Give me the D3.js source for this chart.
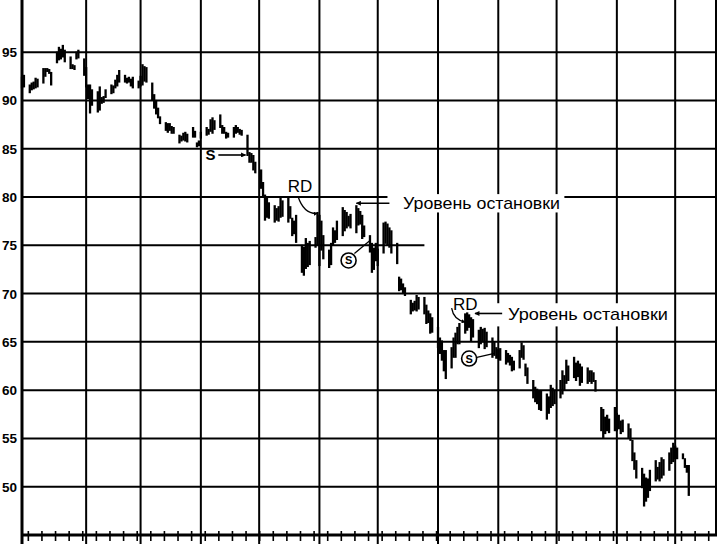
<!DOCTYPE html>
<html><head><meta charset="utf-8">
<script src="https://cdn.jsdelivr.net/npm/d3@7"></script>
<style>body{margin:0;background:#fff}svg{display:block}</style>
</head><body>
<svg id="c" width="719" height="544"></svg>
<script>
// ---- data ----
const yTickValues = [50, 55, 60, 65, 70, 75, 80, 85, 90, 95];
const firstDay = new Date(1993, 11, 30);
const lastDay = new Date(1994, 11, 22);
const highs = [
92.4,92.6,
91.6,91.8,91.9,92.3,92.2,
93.3,93.3,93.3,93.2,92.9,
95.0,95.5,95.3,95.7,95.2,
94.5,93.7,93.6,95.0,95.2,
94.3,93.4,91.6,91.6,91.1,
90.9,91.4,90.3,90.4,91.1,
91.6,91.5,92.1,92.6,93.1,
92.6,92.3,92.4,92.2,92.4,
92.0,92.5,93.7,93.5,93.4,
91.8,90.6,90.0,89.2,88.3,
87.7,87.6,87.6,87.3,87.2,
86.4,86.3,86.6,86.7,86.5,
87.2,86.8,85.6,85.8,86.7,
87.2,87.0,88.0,88.2,87.9,
88.5,87.4,87.2,86.7,86.6,
87.2,87.4,87.2,87.0,86.9,
86.4,84.6,84.5,84.3,83.6,
82.8,81.5,80.2,80.0,79.4,
79.1,78.8,79.0,80.0,79.6,
79.9,79.0,77.8,77.5,78.1,
75.0,74.8,75.7,75.2,75.4,
75.8,78.4,78.1,77.5,76.0,
74.5,75.2,76.8,76.5,77.5,
78.9,78.6,78.4,78.0,78.2,
79.1,78.8,78.5,78.1,77.0,
76.0,75.2,74.7,75.2,74.6,
77.3,77.4,77.2,76.8,76.5,
75.2,71.7,71.5,71.0,70.6,
69.3,69.0,69.2,69.8,69.6,
69.6,68.8,68.2,67.9,67.5,
66.5,65.4,65.1,64.1,64.1,
64.4,65.4,65.9,66.5,66.9,
67.9,68.0,67.8,67.5,67.3,
66.2,66.5,66.3,66.4,66.0,
65.4,65.0,64.4,64.2,64.3,
64.1,63.8,63.6,63.4,63.0,
64.1,64.9,64.6,62.7,62.3,
61.0,60.3,60.1,59.9,59.9,
59.6,59.3,60.5,60.2,60.0,
61.0,62.0,61.5,63.1,62.5,
63.4,62.8,63.0,62.7,62.4,
62.3,62.0,62.0,61.8,61.0,
58.2,58.0,57.2,57.4,57.0,
58.2,57.6,57.4,56.8,56.9,
56.5,56.0,54.8,53.5,52.7,
51.9,51.3,50.9,50.8,51.7,
52.7,52.0,52.5,53.0,52.8,
53.5,54.0,54.5,54.2,54.0,
53.4,52.9,52.2,52.2
];
const lows = [
91.3,91.4,
90.8,91.1,91.2,91.3,91.4,
91.8,92.5,93.0,92.8,91.6,
93.9,94.2,94.3,94.5,94.0,
93.3,93.3,93.2,94.3,94.4,
92.6,91.4,90.2,88.7,89.5,
88.8,89.0,89.7,89.8,90.3,
90.7,90.8,91.3,91.5,91.9,
91.9,91.8,91.9,91.5,91.3,
91.3,91.5,91.6,92.0,91.9,
90.0,89.2,88.6,88.2,87.6,
86.9,86.7,86.9,86.6,86.6,
85.6,85.8,85.9,85.8,85.7,
86.2,86.2,85.2,85.3,86.1,
86.4,86.5,86.8,86.6,87.0,
87.2,86.6,86.6,86.1,86.2,
86.2,86.6,86.7,86.5,86.4,
84.3,83.6,83.6,82.8,82.5,
80.9,80.0,77.6,77.9,77.8,
77.4,77.6,77.5,77.9,78.0,
77.4,77.8,76.0,76.2,75.3,
72.2,71.9,72.6,72.8,73.0,
74.8,75.0,72.9,74.5,73.6,
72.7,73.0,75.0,75.3,75.6,
76.0,76.5,76.8,77.0,76.8,
76.3,77.1,77.2,75.7,75.9,
74.3,72.2,72.5,73.4,72.9,
74.2,75.2,75.0,74.8,74.2,
73.1,70.3,70.4,70.0,69.8,
67.9,68.2,68.3,68.2,68.4,
67.9,66.9,67.0,65.9,66.0,
64.4,63.8,63.1,62.0,61.2,
62.3,63.4,63.4,64.8,64.8,
65.9,66.2,66.5,65.1,65.5,
64.4,64.8,65.0,64.3,64.5,
63.4,63.6,63.3,63.3,63.1,
62.7,62.9,62.6,62.0,62.1,
62.3,63.4,63.2,61.5,60.7,
59.2,58.8,58.6,58.0,57.9,
57.0,57.6,58.2,58.4,58.6,
59.2,59.6,60.0,60.7,61.0,
61.3,61.0,61.4,60.5,60.8,
60.7,60.9,60.7,60.9,59.9,
55.8,55.1,55.5,55.8,55.6,
55.8,55.8,56.0,55.5,55.7,
55.1,54.8,52.7,51.8,50.9,
49.9,48.0,48.5,48.9,49.6,
50.6,50.8,50.6,50.9,51.2,
51.7,52.4,52.6,52.9,52.9,
52.9,52.0,51.5,49.1
];
const labelRD = "RD";
const labelStop = "Уровень остановки";
const labelS = "S";

// ---- chart ----
const svg = d3.select("#c");
const W = 719, H = 544;
const x = d3.scaleTime().domain([firstDay, lastDay]).range([22, 716]);
const y = d3.scaleLinear().domain([45, 100.4]).range([535, 0]);

const tradingDays = d3.timeDay.range(firstDay, lastDay)
  .filter(d => d.getDay() !== 0 && d.getDay() !== 6)
  .slice(0, highs.length);
const bars = tradingDays.map((d, i) => ({date: d, high: highs[i], low: lows[i]}));

svg.append("rect").attr("width", W).attr("height", H).attr("fill", "#fff");

const grid = svg.append("g").attr("stroke", "#000");
// horizontal gridlines (the 75 line stops short in the source)
grid.selectAll("line.h").data(yTickValues).join("line")
  .attr("x1", 22)
  .attr("x2", d => d === 75 ? x(new Date(1994, 6, 25)) : 716)
  .attr("y1", d => y(d)).attr("y2", d => y(d))
  .attr("stroke-width", 2);
const months = d3.timeMonth.range(new Date(1994, 1, 1), lastDay);
grid.selectAll("line.v").data(months).join("line")
  .attr("x1", d => x(d)).attr("x2", d => x(d))
  .attr("y1", 0).attr("y2", H)
  .attr("stroke-width", 2);
grid.append("line").attr("x1", 716).attr("x2", 716).attr("y1", 0).attr("y2", 536).attr("stroke-width", 2);

const xAxis = d3.axisBottom(x).ticks(d3.timeWeek.every(1)).tickSize(6).tickFormat("");
const gx = svg.append("g").attr("transform", `translate(0,${y(45)})`).call(xAxis);
gx.select(".domain").remove();
gx.selectAll(".tick line").attr("stroke", "#000").attr("stroke-width", 1.6).attr("y1", -4);
svg.append("line").attr("x1", 21).attr("x2", 717).attr("y1", y(45)).attr("y2", y(45))
  .attr("stroke", "#000").attr("stroke-width", 3);
svg.append("line").attr("x1", 22).attr("x2", 22).attr("y1", 0).attr("y2", H)
  .attr("stroke", "#000").attr("stroke-width", 3);

svg.append("g").selectAll("text").data(yTickValues).join("text")
  .attr("x", 17).attr("y", d => y(d) + 5)
  .attr("text-anchor", "end")
  .attr("font-family", "Liberation Sans, Arial, sans-serif")
  .attr("font-weight", "bold").attr("font-size", 13.5)
  .text(d => d);

const dayX = off => x(d3.timeDay.offset(firstDay, off));
const annBg = svg.append("g");
annBg.append("rect").attr("x", dayX(188)).attr("y", y(80.3)).attr("width", dayX(279) - dayX(188)).attr("height", y(78.4) - y(80.3)).attr("fill", "#fff");
annBg.append("rect").attr("x", dayX(240)).attr("y", y(69.0)).attr("width", dayX(333) - dayX(240)).attr("height", y(66.6) - y(69.0)).attr("fill", "#fff");
annBg.append("rect").attr("x", dayX(94)).attr("y", y(84.8)).attr("width", dayX(101) - dayX(94)).attr("height", y(83.6) - y(84.8)).attr("fill", "#fff");

svg.append("g").selectAll("line").data(bars).join("line")
  .attr("x1", d => x(d.date)).attr("x2", d => x(d.date))
  .attr("y1", d => y(d.high) - 0.5).attr("y2", d => y(d.low) + 0.5)
  .attr("stroke", "#000").attr("stroke-width", 2.3);

const defs = svg.append("defs");
defs.append("marker").attr("id", "ah").attr("viewBox", "0 0 10 10").attr("refX", 9).attr("refY", 5)
  .attr("markerWidth", 7).attr("markerHeight", 5).attr("orient", "auto-start-reverse")
  .attr("markerUnits", "userSpaceOnUse")
  .append("path").attr("d", "M0,0L10,5L0,10z").attr("fill", "#000");
defs.append("marker").attr("id", "ahs").attr("viewBox", "0 0 10 10").attr("refX", 9).attr("refY", 5)
  .attr("markerWidth", 5).attr("markerHeight", 4).attr("orient", "auto")
  .attr("markerUnits", "userSpaceOnUse")
  .append("path").attr("d", "M0,0L10,5L0,10z").attr("fill", "#000");

const fontA = "Liberation Sans, Arial, sans-serif";
const annG = svg.append("g");
annG.append("text").attr("x", dayX(97.2)).attr("y", y(84.4) + 5.5).attr("text-anchor", "middle")
  .attr("font-family", fontA).attr("font-weight", "bold").attr("font-size", 15).text(labelS);
annG.append("line").attr("x1", dayX(101.5)).attr("x2", dayX(115)).attr("y1", y(84.35)).attr("y2", y(84.35))
  .attr("stroke", "#000").attr("stroke-width", 1.6).attr("marker-end", "url(#ah)");

annG.append("text").attr("x", dayX(143)).attr("y", y(81.2) + 6.5).attr("text-anchor", "middle")
  .attr("font-family", fontA).attr("font-size", 17).text(labelRD);
annG.append("path")
  .attr("d", `M${dayX(142)},${y(80.05)} Q${dayX(145)},${y(78.2)} ${dayX(152.5)},${y(78.3)}`)
  .attr("fill", "none").attr("stroke", "#000").attr("stroke-width", 1.3).attr("marker-end", "url(#ahs)");
annG.append("line").attr("x1", dayX(189.5)).attr("x2", dayX(172)).attr("y1", y(79.35)).attr("y2", y(79.35))
  .attr("stroke", "#000").attr("stroke-width", 1.6).attr("marker-end", "url(#ah)");
annG.append("text").attr("x", dayX(196)).attr("y", y(79.45) + 6.5)
  .attr("font-family", fontA).attr("font-size", 17).attr("textLength", 157).attr("lengthAdjust", "spacingAndGlyphs")
  .text(labelStop);
annG.append("line").attr("x1", dayX(171.8)).attr("x2", dayX(179)).attr("y1", y(74.16)).attr("y2", y(75.5))
  .attr("stroke", "#000").attr("stroke-width", 1.3);
annG.append("circle").attr("cx", dayX(168.7)).attr("cy", y(73.43)).attr("r", 7.5)
  .attr("fill", "#fff").attr("stroke", "#000").attr("stroke-width", 1.6);
annG.append("text").attr("x", dayX(168.7)).attr("y", y(73.43) + 4).attr("text-anchor", "middle")
  .attr("font-family", fontA).attr("font-weight", "bold").attr("font-size", 11).text(labelS);

annG.append("text").attr("x", dayX(228)).attr("y", y(69.0) + 6.5).attr("text-anchor", "middle")
  .attr("font-family", fontA).attr("font-size", 17).text(labelRD);
annG.append("path")
  .attr("d", `M${dayX(221.7)},${y(68.5)} Q${dayX(222.5)},${y(67.3)} ${dayX(228.5)},${y(67.05)}`)
  .attr("fill", "none").attr("stroke", "#000").attr("stroke-width", 1.3).attr("marker-end", "url(#ahs)");
annG.append("line").attr("x1", dayX(247)).attr("x2", dayX(233.5)).attr("y1", y(67.94)).attr("y2", y(67.94))
  .attr("stroke", "#000").attr("stroke-width", 1.6).attr("marker-end", "url(#ah)");
annG.append("text").attr("x", dayX(250)).attr("y", y(67.94) + 6.5)
  .attr("font-family", fontA).attr("font-size", 17).attr("textLength", 160).attr("lengthAdjust", "spacingAndGlyphs")
  .text(labelStop);
annG.append("line").attr("x1", dayX(234)).attr("x2", dayX(243.5)).attr("y1", y(63.4)).attr("y2", y(63.8))
  .attr("stroke", "#000").attr("stroke-width", 1.3);
annG.append("circle").attr("cx", dayX(230.5)).attr("cy", y(63.27)).attr("r", 7.5)
  .attr("fill", "#fff").attr("stroke", "#000").attr("stroke-width", 1.6);
annG.append("text").attr("x", dayX(230.5)).attr("y", y(63.27) + 4).attr("text-anchor", "middle")
  .attr("font-family", fontA).attr("font-weight", "bold").attr("font-size", 11).text(labelS);
</script>
</body></html>
